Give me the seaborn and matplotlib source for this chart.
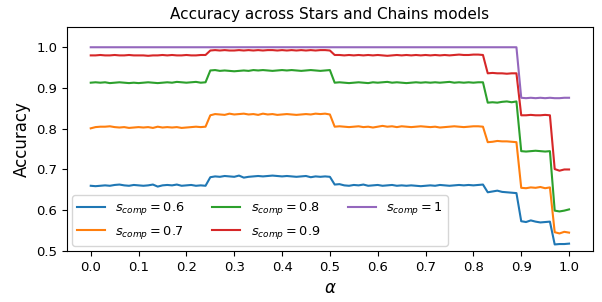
import matplotlib
matplotlib.use("Agg")
import matplotlib.pyplot as plt
import numpy as np
import pandas as pd
import seaborn as sns

# alpha grid: 0.00 .. 1.00 step 0.01
ALPHA = [round(i / 100, 2) for i in range(101)]

# segments: [0-0.24], [0.25-0.50], [0.51-0.82], [0.83-0.89], [0.90-0.96], [0.97-1.0]
ACC_06 = (
    [0.660, 0.659, 0.660, 0.661, 0.660, 0.662, 0.663, 0.661, 0.660, 0.662, 0.661, 0.660, 0.661,
     0.663, 0.658, 0.661, 0.662, 0.661, 0.663, 0.660, 0.661, 0.662, 0.660, 0.661, 0.660]
    + [0.681, 0.683, 0.682, 0.684, 0.683, 0.682, 0.685, 0.680, 0.682, 0.683, 0.684, 0.683, 0.684,
       0.685, 0.684, 0.683, 0.684, 0.683, 0.682, 0.683, 0.684, 0.681, 0.683, 0.682, 0.683, 0.682]
    + [0.663, 0.664, 0.661, 0.660, 0.662, 0.661, 0.663, 0.660, 0.661, 0.662, 0.660, 0.661, 0.662,
       0.660, 0.661, 0.660, 0.661, 0.660, 0.659, 0.660, 0.661, 0.660, 0.662, 0.661, 0.660, 0.661,
       0.662, 0.661, 0.662, 0.661, 0.662, 0.663]
    + [0.644, 0.646, 0.648, 0.645, 0.644, 0.643, 0.642]
    + [0.573, 0.571, 0.575, 0.572, 0.570, 0.571, 0.572]
    + [0.516, 0.517, 0.517, 0.518]
)
ACC_07 = (
    [0.801, 0.804, 0.805, 0.805, 0.806, 0.804, 0.803, 0.804, 0.802, 0.803, 0.804, 0.803, 0.804,
     0.802, 0.805, 0.803, 0.804, 0.803, 0.804, 0.802, 0.803, 0.804, 0.805, 0.804, 0.805]
    + [0.833, 0.836, 0.835, 0.834, 0.837, 0.835, 0.836, 0.837, 0.835, 0.836, 0.834, 0.837, 0.835,
       0.836, 0.834, 0.835, 0.836, 0.835, 0.834, 0.835, 0.836, 0.835, 0.837, 0.836, 0.837, 0.835]
    + [0.805, 0.806, 0.805, 0.804, 0.805, 0.806, 0.804, 0.805, 0.803, 0.805, 0.807, 0.805, 0.806,
       0.804, 0.806, 0.805, 0.804, 0.805, 0.806, 0.805, 0.804, 0.805, 0.803, 0.804, 0.805, 0.806,
       0.805, 0.804, 0.805, 0.806, 0.806, 0.805]
    + [0.767, 0.768, 0.770, 0.769, 0.769, 0.768, 0.767]
    + [0.655, 0.654, 0.656, 0.655, 0.657, 0.654, 0.656]
    + [0.546, 0.543, 0.547, 0.545]
)
ACC_08 = (
    [0.913, 0.914, 0.913, 0.914, 0.912, 0.913, 0.914, 0.913, 0.912, 0.913, 0.912, 0.913, 0.914,
     0.913, 0.912, 0.913, 0.914, 0.913, 0.915, 0.914, 0.913, 0.914, 0.915, 0.913, 0.914]
    + [0.943, 0.944, 0.942, 0.943, 0.942, 0.941, 0.942, 0.943, 0.942, 0.944, 0.943, 0.944, 0.943,
       0.942, 0.943, 0.944, 0.943, 0.944, 0.943, 0.942, 0.943, 0.944, 0.943, 0.942, 0.943, 0.944]
    + [0.913, 0.914, 0.913, 0.912, 0.913, 0.914, 0.913, 0.912, 0.914, 0.913, 0.914, 0.915, 0.913,
       0.914, 0.913, 0.912, 0.913, 0.914, 0.913, 0.914, 0.913, 0.914, 0.913, 0.914, 0.915, 0.913,
       0.914, 0.913, 0.914, 0.913, 0.914, 0.914]
    + [0.864, 0.865, 0.864, 0.866, 0.867, 0.865, 0.867]
    + [0.745, 0.744, 0.745, 0.746, 0.745, 0.744, 0.745]
    + [0.599, 0.597, 0.599, 0.602]
)
ACC_09 = (
    [0.980, 0.980, 0.981, 0.980, 0.980, 0.981, 0.980, 0.980, 0.981, 0.980, 0.980, 0.980, 0.979,
     0.980, 0.980, 0.981, 0.980, 0.981, 0.980, 0.980, 0.981, 0.980, 0.980, 0.981, 0.981]
    + [0.992, 0.993, 0.992, 0.993, 0.992, 0.992, 0.993, 0.992, 0.993, 0.992, 0.993, 0.992, 0.993,
       0.993, 0.992, 0.993, 0.992, 0.993, 0.992, 0.993, 0.992, 0.993, 0.992, 0.993, 0.993, 0.992]
    + [0.981, 0.981, 0.980, 0.981, 0.980, 0.981, 0.980, 0.981, 0.980, 0.981, 0.980, 0.979, 0.980,
       0.981, 0.980, 0.981, 0.980, 0.981, 0.980, 0.981, 0.980, 0.981, 0.980, 0.981, 0.980, 0.981,
       0.982, 0.981, 0.981, 0.982, 0.982, 0.981]
    + [0.936, 0.937, 0.936, 0.936, 0.935, 0.936, 0.936]
    + [0.833, 0.833, 0.834, 0.833, 0.833, 0.834, 0.833]
    + [0.701, 0.697, 0.700, 0.700]
)
ACC_10 = (
    [1.0] * 90
    + [0.876, 0.875, 0.876, 0.875, 0.876, 0.875, 0.876, 0.875, 0.875, 0.876, 0.876]
)

S_COMP = ["0.6", "0.7", "0.8", "0.9", "1"]
SERIES = [ACC_06, ACC_07, ACC_08, ACC_09, ACC_10]

frames = []
for s, acc in zip(S_COMP, SERIES):
    frames.append(pd.DataFrame({
        "alpha": ALPHA,
        "accuracy": acc,
        "label": f"$s_{{comp}} = {s}$",
    }))
df = pd.concat(frames, ignore_index=True)

fig, ax = plt.subplots(figsize=(6.02, 3.02), dpi=100)
sns.lineplot(data=df, x="alpha", y="accuracy", hue="label",
             palette=list(plt.get_cmap("tab10").colors[:5]), ax=ax, linewidth=1.5)

ax.set_ylim(0.5, 1.05)
ax.set_xticks(np.arange(0, 1.01, 0.1))
ax.set_yticks(np.arange(0.5, 1.01, 0.1))
ax.set_title("Accuracy across Stars and Chains models", fontsize=11)
ax.set_xlabel(r"$\alpha$", fontsize=12)
ax.set_ylabel("Accuracy", fontsize=12)
ax.tick_params(labelsize=9.5)
ax.legend(title=None, ncol=3, loc="lower left", fontsize=9.3,
          handlelength=2.15, columnspacing=2.15, borderaxespad=0.4)

plt.subplots_adjust(left=0.111, right=0.985, top=0.911, bottom=0.169)
plt.savefig("out.png", dpi=100)
plt.close()
